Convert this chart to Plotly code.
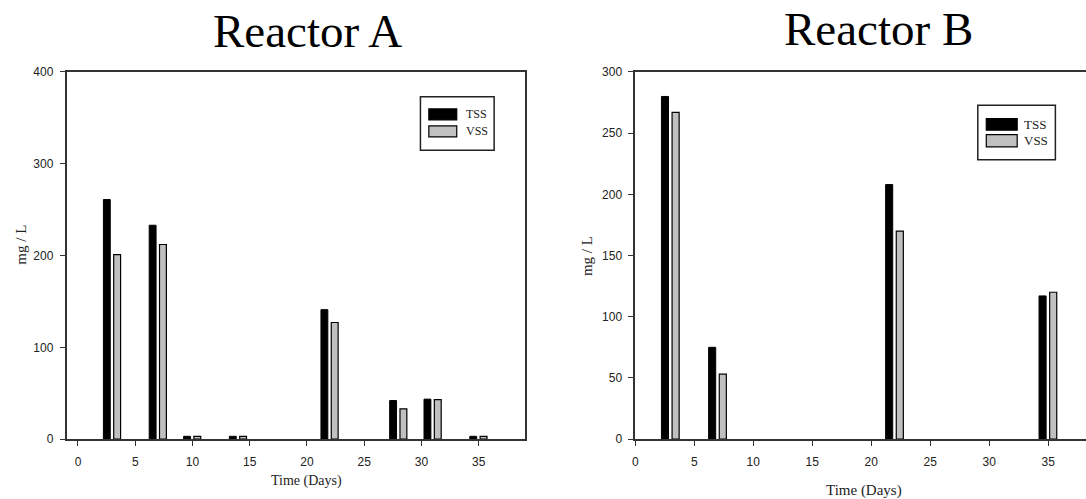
import plotly.graph_objects as go

# ---- data ----
days_a = [3, 7, 10, 14, 22, 28, 31, 35]
tss_a = [261, 233, 3, 3, 141, 42, 43.5, 3]
vss_a = [201, 212, 3, 3, 127, 33, 43, 3]

days_b = [3, 7, 22, 35]
tss_b = [280, 75, 208, 117]
vss_b = [267, 53, 170, 120]

x_ticks = [0, 5, 10, 15, 20, 25, 30, 35]
y_ticks_a = [0, 100, 200, 300, 400]
y_ticks_b = [0, 50, 100, 150, 200, 250, 300]

series_names = ["TSS", "VSS"]
titles = ["Reactor A", "Reactor B"]
x_title = "Time (Days)"
y_title = "mg / L"

# ---- styling ----
W, H = 1086, 499
SERIF = "Liberation Serif, Times New Roman, serif"
SANS = "Liberation Sans, Arial, sans-serif"
TSS_COLOR = "#000000"
VSS_COLOR = "#c0c0c0"
LINE = "#333333"


def px(x):
    return x / W


def py(y):
    # pixel row (measured on the reference) -> paper fraction
    y = (y - 5.9) / 0.9736
    return 1 - y / H


fig = go.Figure()

bar_w = 0.6
for xs, tss, vss, xa, ya in [(days_a, tss_a, vss_a, "x", "y"),
                             (days_b, tss_b, vss_b, "x2", "y2")]:
    fig.add_trace(go.Bar(x=xs, y=tss, width=bar_w, offset=-0.78,
                         marker=dict(color=TSS_COLOR, line=dict(color="#000", width=1)),
                         name=series_names[0], showlegend=False, xaxis=xa, yaxis=ya))
    fig.add_trace(go.Bar(x=xs, y=vss, width=bar_w, offset=0.12,
                         marker=dict(color=VSS_COLOR, line=dict(color="#000", width=1.2)),
                         name=series_names[1], showlegend=False, xaxis=xa, yaxis=ya))

axis_common = dict(showgrid=False, zeroline=False, showline=True, linecolor=LINE,
                   linewidth=1.5, ticks="outside", ticklen=5, tickwidth=1.2,
                   tickcolor=LINE, tickfont=dict(family=SANS, size=12, color="#222"))

ydom = [py(438.7), py(71)]
fig.update_layout(
    width=W, height=H, autosize=False,
    margin=dict(l=0, r=0, t=0, b=0),
    paper_bgcolor="white", plot_bgcolor="white",
    barmode="overlay", showlegend=False,
    xaxis=dict(domain=[px(63.7), px(523)], range=[-1, 39], tickvals=x_ticks,
               anchor="y", mirror=True, ticklabelstandoff=6, **axis_common),
    yaxis=dict(domain=ydom, range=[0, 400], tickvals=y_ticks_a,
               anchor="x", mirror=True, ticklabelstandoff=4, **axis_common),
    xaxis2=dict(domain=[px(634), 1.0], range=[0, 38.2], tickvals=x_ticks,
                anchor="y2", mirror=True, ticklabelstandoff=6, **axis_common),
    yaxis2=dict(domain=ydom, range=[0, 300], tickvals=y_ticks_b,
                anchor="x2", mirror=False, ticklabelstandoff=4, **axis_common),
)

ann = []
# titles
ann.append(dict(text=titles[0], x=px(305.5), y=py(30.1), xanchor="center", yanchor="middle",
                font=dict(family=SERIF, size=47, color="black")))
ann.append(dict(text=titles[1], x=px(877.5), y=py(28.1), xanchor="center", yanchor="middle",
                font=dict(family=SERIF, size=47, color="black")))
# axis titles
ann.append(dict(text=x_title, x=px(304), y=py(481), xanchor="center", yanchor="middle",
                font=dict(family=SERIF, size=14, color="#222")))
ann.append(dict(text=x_title, x=px(863), y=py(490), xanchor="center", yanchor="middle",
                font=dict(family=SERIF, size=15, color="#222")))
ann.append(dict(text=y_title, x=px(18), y=py(244), xanchor="center", yanchor="middle",
                textangle=-90, font=dict(family=SERIF, size=15, color="#222")))
ann.append(dict(text=y_title, x=px(585), y=py(255), xanchor="center", yanchor="middle",
                textangle=-90, font=dict(family=SERIF, size=15, color="#222")))

shapes = []
# custom legends (box, swatches, labels)
legends = [
    dict(box=(418.6, 95.7, 492.5, 149.3), sw_x=(427, 455), sw1=(108, 119), sw2=(125, 136), tx=462, fs=12),
    dict(box=(977.5, 104.3, 1055.3, 159), sw_x=(986, 1017), sw1=(117.7, 129.3), sw2=(133.7, 146), tx=1022, fs=13),
]
for lg in legends:
    x0, y0, x1, y1 = lg["box"]
    shapes.append(dict(type="rect", xref="paper", yref="paper", x0=px(x0), x1=px(x1),
                       y0=py(y1), y1=py(y0), line=dict(color="#222", width=1.5),
                       fillcolor="white"))
    for (sy0, sy1), col, name in [(lg["sw1"], TSS_COLOR, series_names[0]),
                                  (lg["sw2"], VSS_COLOR, series_names[1])]:
        shapes.append(dict(type="rect", xref="paper", yref="paper",
                           x0=px(lg["sw_x"][0]), x1=px(lg["sw_x"][1]),
                           y0=py(sy1), y1=py(sy0), line=dict(color="#000", width=1.2),
                           fillcolor=col))
        ann.append(dict(text=name, x=px(lg["tx"]), y=py((sy0 + sy1) / 2),
                        xanchor="left", yanchor="middle",
                        font=dict(family=SERIF, size=lg["fs"], color="#222")))

for a in ann:
    a.setdefault("xref", "paper")
    a.setdefault("yref", "paper")
    a.setdefault("showarrow", False)

fig.update_layout(annotations=ann, shapes=shapes)

fig.write_html("out.html",
               config={"displayModeBar": False},
               post_script="document.body.style.margin='0';document.body.style.overflow='hidden';")
